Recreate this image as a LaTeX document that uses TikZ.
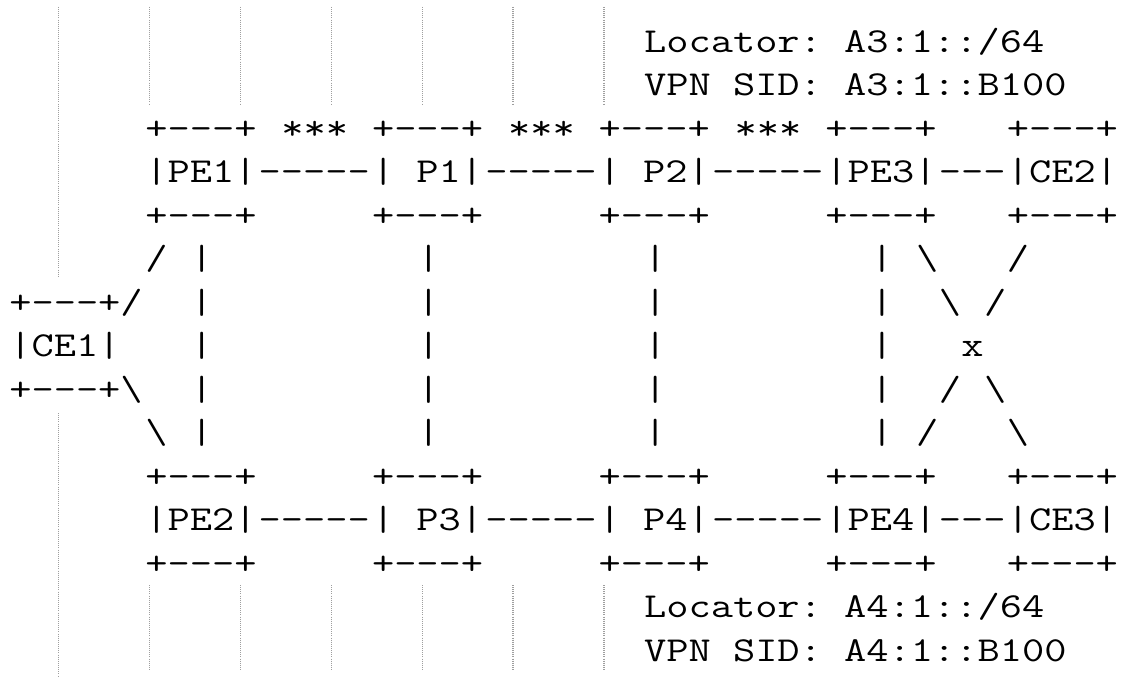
\documentclass[tikz,border=0pt]{standalone}
\usepackage{graphicx}
\newcommand\D{-\kern0pt}
\newcommand\BS{\textbackslash}
\newcommand\sx[1]{\scalebox{1.2337}[1]{#1}}
\tikzset{
  txt/.style={anchor=base west, inner sep=0pt, outer sep=0pt, text=black,
    font=\fontsize{35}{35}\selectfont\ttfamily\frenchspacing},
  guide/.style={draw=black!38, line width=1.1pt, dash pattern=on 1pt off 1.1pt},
}
\newcommand\seg[4]{\node[txt] (#1) at ({9.3+22.67*#2},{52.3+43.48*#3}) {\sx{#4}};}
\begin{document}
\begin{tikzpicture}[x=1pt,y=-1pt]
\useasboundingbox[fill=white] (0,0) rectangle (1128,677);
% background guide lines
\draw[guide] (58.5,7) -- (58.5,277);
\draw[guide] (58.5,413) -- (58.5,677);
\foreach \gx in {149.4,240.3,331.2,422.1,513.0,604.0}{
  \draw[guide] (\gx,7) -- (\gx,104);
  \draw[guide] (\gx,585) -- (\gx,670);
}
% row 0-1
\seg{loc3}{28}{0}{Locator: A3:1::/64}
\seg{sid3}{28}{1}{VPN SID: A3:1::B100}
% row 2
\seg{pe1t}{6}{2}{+\D\D\D+}
\seg{st1}{12}{2}{***}
\seg{p1t}{16}{2}{+\D\D\D+}
\seg{st2}{22}{2}{***}
\seg{p2t}{26}{2}{+\D\D\D+}
\seg{st3}{32}{2}{***}
\seg{pe3t}{36}{2}{+\D\D\D+}
\seg{ce2t}{44}{2}{+\D\D\D+}
% row 3
\seg{PE1}{6}{3}{|PE1|}
\seg{la}{11}{3}{\D\D\D\D\D}
\seg{P1}{16}{3}{| P1|}
\seg{lb}{21}{3}{\D\D\D\D\D}
\seg{P2}{26}{3}{| P2|}
\seg{lc}{31}{3}{\D\D\D\D\D}
\seg{PE3}{36}{3}{|PE3|}
\seg{ld}{41}{3}{\D\D\D}
\seg{CE2}{44}{3}{|CE2|}
% row 4
\seg{pe1b}{6}{4}{+\D\D\D+}
\seg{p1b}{16}{4}{+\D\D\D+}
\seg{p2b}{26}{4}{+\D\D\D+}
\seg{pe3b}{36}{4}{+\D\D\D+}
\seg{ce2b}{44}{4}{+\D\D\D+}
% row 5
\seg{r5a}{6}{5}{/}
\seg{r5b}{8}{5}{|}
\seg{r5c}{18}{5}{|}
\seg{r5d}{28}{5}{|}
\seg{r5e}{38}{5}{|}
\seg{r5f}{40}{5}{\BS}
\seg{r5g}{44}{5}{/}
% row 6
\seg{ce1t}{0}{6}{+\D\D\D+/}
\seg{r6b}{8}{6}{|}
\seg{r6c}{18}{6}{|}
\seg{r6d}{28}{6}{|}
\seg{r6e}{38}{6}{|}
\seg{r6f}{41}{6}{\BS}
\seg{r6g}{43}{6}{/}
% row 7
\seg{CE1}{0}{7}{|CE1|}
\seg{r7b}{8}{7}{|}
\seg{r7c}{18}{7}{|}
\seg{r7d}{28}{7}{|}
\seg{r7e}{38}{7}{|}
\seg{cross}{42}{7}{x}
% row 8
\seg{ce1b}{0}{8}{+\D\D\D+\BS}
\seg{r8b}{8}{8}{|}
\seg{r8c}{18}{8}{|}
\seg{r8d}{28}{8}{|}
\seg{r8e}{38}{8}{|}
\seg{r8f}{41}{8}{/}
\seg{r8g}{43}{8}{\BS}
% row 9
\seg{r9a}{6}{9}{\BS}
\seg{r9b}{8}{9}{|}
\seg{r9c}{18}{9}{|}
\seg{r9d}{28}{9}{|}
\seg{r9e}{38}{9}{|}
\seg{r9f}{40}{9}{/}
\seg{r9g}{44}{9}{\BS}
% row 10
\seg{pe2t}{6}{10}{+\D\D\D+}
\seg{p3t}{16}{10}{+\D\D\D+}
\seg{p4t}{26}{10}{+\D\D\D+}
\seg{pe4t}{36}{10}{+\D\D\D+}
\seg{ce3t}{44}{10}{+\D\D\D+}
% row 11
\seg{PE2}{6}{11}{|PE2|}
\seg{le}{11}{11}{\D\D\D\D\D}
\seg{P3}{16}{11}{| P3|}
\seg{lf}{21}{11}{\D\D\D\D\D}
\seg{P4}{26}{11}{| P4|}
\seg{lg}{31}{11}{\D\D\D\D\D}
\seg{PE4}{36}{11}{|PE4|}
\seg{lh}{41}{11}{\D\D\D}
\seg{CE3}{44}{11}{|CE3|}
% row 12
\seg{pe2b}{6}{12}{+\D\D\D+}
\seg{p3b}{16}{12}{+\D\D\D+}
\seg{p4b}{26}{12}{+\D\D\D+}
\seg{pe4b}{36}{12}{+\D\D\D+}
\seg{ce3b}{44}{12}{+\D\D\D+}
% row 13-14
\seg{loc4}{28}{13}{Locator: A4:1::/64}
\seg{sid4}{28}{14}{VPN SID: A4:1::B100}
\end{tikzpicture}
\end{document}
